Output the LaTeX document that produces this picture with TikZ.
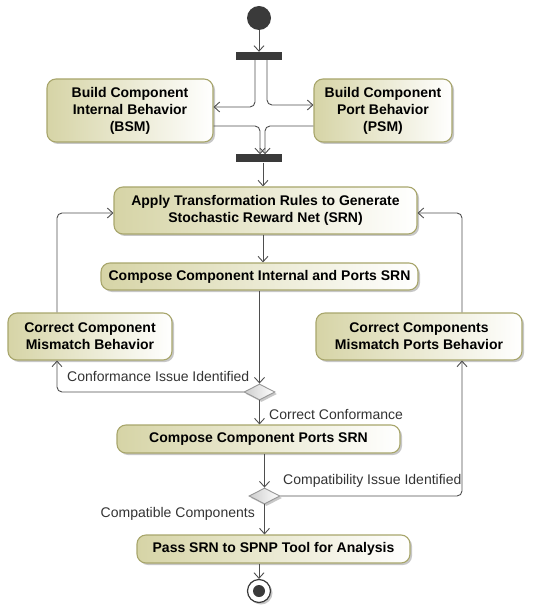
\documentclass[tikz,border=0pt]{standalone}
\usepackage{fontspec}
\setmainfont{Liberation Sans}
\usetikzlibrary{arrows.meta,shapes.geometric,shadows}

\definecolor{actfill}{RGB}{214,212,166}
\definecolor{actline}{RGB}{168,166,108}
\definecolor{flowline}{RGB}{78,78,78}
\definecolor{barfill}{RGB}{58,58,58}
\definecolor{decline}{RGB}{150,150,150}
\definecolor{decfill}{RGB}{205,205,205}

\tikzset{
  softshadow/.style={drop shadow={shadow xshift=2pt, shadow yshift=-2pt, fill=black, opacity=0.22}},
  action/.style={rounded corners=9pt, draw=actline, line width=1.1pt,
    left color=actfill, right color=white, softshadow,
    font=\bfseries\fontsize{14}{17}\selectfont, align=center, inner sep=0pt},
  bar/.style={fill=barfill, draw=none, minimum width=46pt, minimum height=8pt, inner sep=0pt},
  decision/.style={diamond, draw=decline, line width=0.9pt, left color=decfill, right color=white,
    softshadow, minimum width=31pt, minimum height=16pt, inner sep=0pt, aspect=2},
  startnode/.style={circle, fill=barfill, minimum size=24pt, inner sep=0pt},
  endnode/.style={circle, draw=barfill, fill=white, line width=1.2pt, minimum size=23pt, inner sep=0pt, softshadow},
  flow/.style={draw=flowline, line width=0.9pt, rounded corners=5pt,
    -{Straight Barb[length=5.5pt,width=10pt,line width=0.9pt]}},
  guard/.style={font=\fontsize{14}{17}\selectfont, text=black!80, inner sep=0pt}
}

\begin{document}
\begin{tikzpicture}[x=1pt, y=-1pt]
  \useasboundingbox (0,0) rectangle (543,609);

  % initial node and fork
  \node[startnode] (start) at (259,18) {};
  \node[bar] (fork) at (259,56) {};

  % parallel build activities
  \node[action, minimum width=166pt, minimum height=63pt] (bsm) at (130,110.5)
    {Build Component\\Internal Behavior\\(BSM)};
  \node[action, minimum width=138pt, minimum height=63pt] (psm) at (383,110.5)
    {Build Component\\Port Behavior\\(PSM)};

  \node[bar] (join) at (259,158.5) {};

  % main flow
  \node[action, minimum width=303pt, minimum height=47pt] (apply) at (265.5,210.5)
    {Apply Transformation Rules to Generate\\Stochastic Reward Net (SRN)};
  \node[action, minimum width=317pt, minimum height=27pt] (compA) at (259.5,276.5)
    {Compose Component Internal and Ports SRN};

  \node[action, minimum width=164pt, minimum height=47pt] (fixL) at (90,336.5)
    {Correct Component\\Mismatch Behavior};
  \node[action, minimum width=206pt, minimum height=47pt] (fixR) at (419,336.5)
    {Correct Components\\Mismatch Ports Behavior};

  \node[decision] (decA) at (259.5,392) {};
  \node[action, minimum width=283pt, minimum height=28pt] (compB) at (258.5,439)
    {Compose Component Ports SRN};
  \node[decision] (decB) at (264.5,496) {};
  \node[action, minimum width=273pt, minimum height=28pt] (pass) at (273.5,549)
    {Pass SRN to SPNP Tool for Analysis};

  % final node
  \node[endnode] (final) at (259,591) {};
  \node[circle, fill=barfill, minimum size=12pt, inner sep=0pt] (finaldot) at (final.center) {};

  % guard labels
  \node[guard, anchor=base west] (gConfIssue) at (67,381.5) {Conformance Issue Identified};
  \node[guard, anchor=base west] (gConfOk) at (269,419) {Correct Conformance};
  \node[guard, anchor=base west] (gCompIssue) at (283,484) {Compatibility Issue Identified};
  \node[guard, anchor=base east] (gCompOk) at (255,517) {Compatible Components};

  % connectors
  \draw[flow] (start) -- (fork);
  \draw[flow] ([xshift=-4pt]fork.south) |- ([yshift=3.5pt]bsm.east);
  \draw[flow] ([xshift=8pt]fork.south) |- ([yshift=5.5pt]psm.west);
  \draw[flow] ([yshift=-15.5pt]bsm.east) -| ([xshift=1pt]join.north);
  \draw[flow] ([yshift=-15.5pt]psm.west) -| ([xshift=6pt]join.north);
  \draw[flow] ([xshift=4pt]join.south) -- ([xshift=4pt]join.south |- apply.north);
  \draw[flow] ([xshift=-2.5pt]apply.south) -- ([xshift=-2.5pt]apply.south |- compA.north);
  \draw[flow] (compA.south -| decA.north) -- (decA.north);
  \draw[flow] (decA.west) -| ([xshift=-33pt]fixL.south);
  \draw[flow] ([xshift=-33pt]fixL.north) |- ([yshift=-2.5pt]apply.west);
  \draw[flow] (decA.south) -- (decA.south |- compB.north);
  \draw[flow] (compB.south -| decB.north) -- (decB.north);
  \draw[flow] (decB.east) -| ([xshift=43pt]fixR.south);
  \draw[flow] ([xshift=43pt]fixR.north) |- ([yshift=-2.5pt]apply.east);
  \draw[flow] (decB.south) -- (decB.south |- pass.north);
  \draw[flow] (pass.south -| final.north) -- (final.north);
\end{tikzpicture}
\end{document}
